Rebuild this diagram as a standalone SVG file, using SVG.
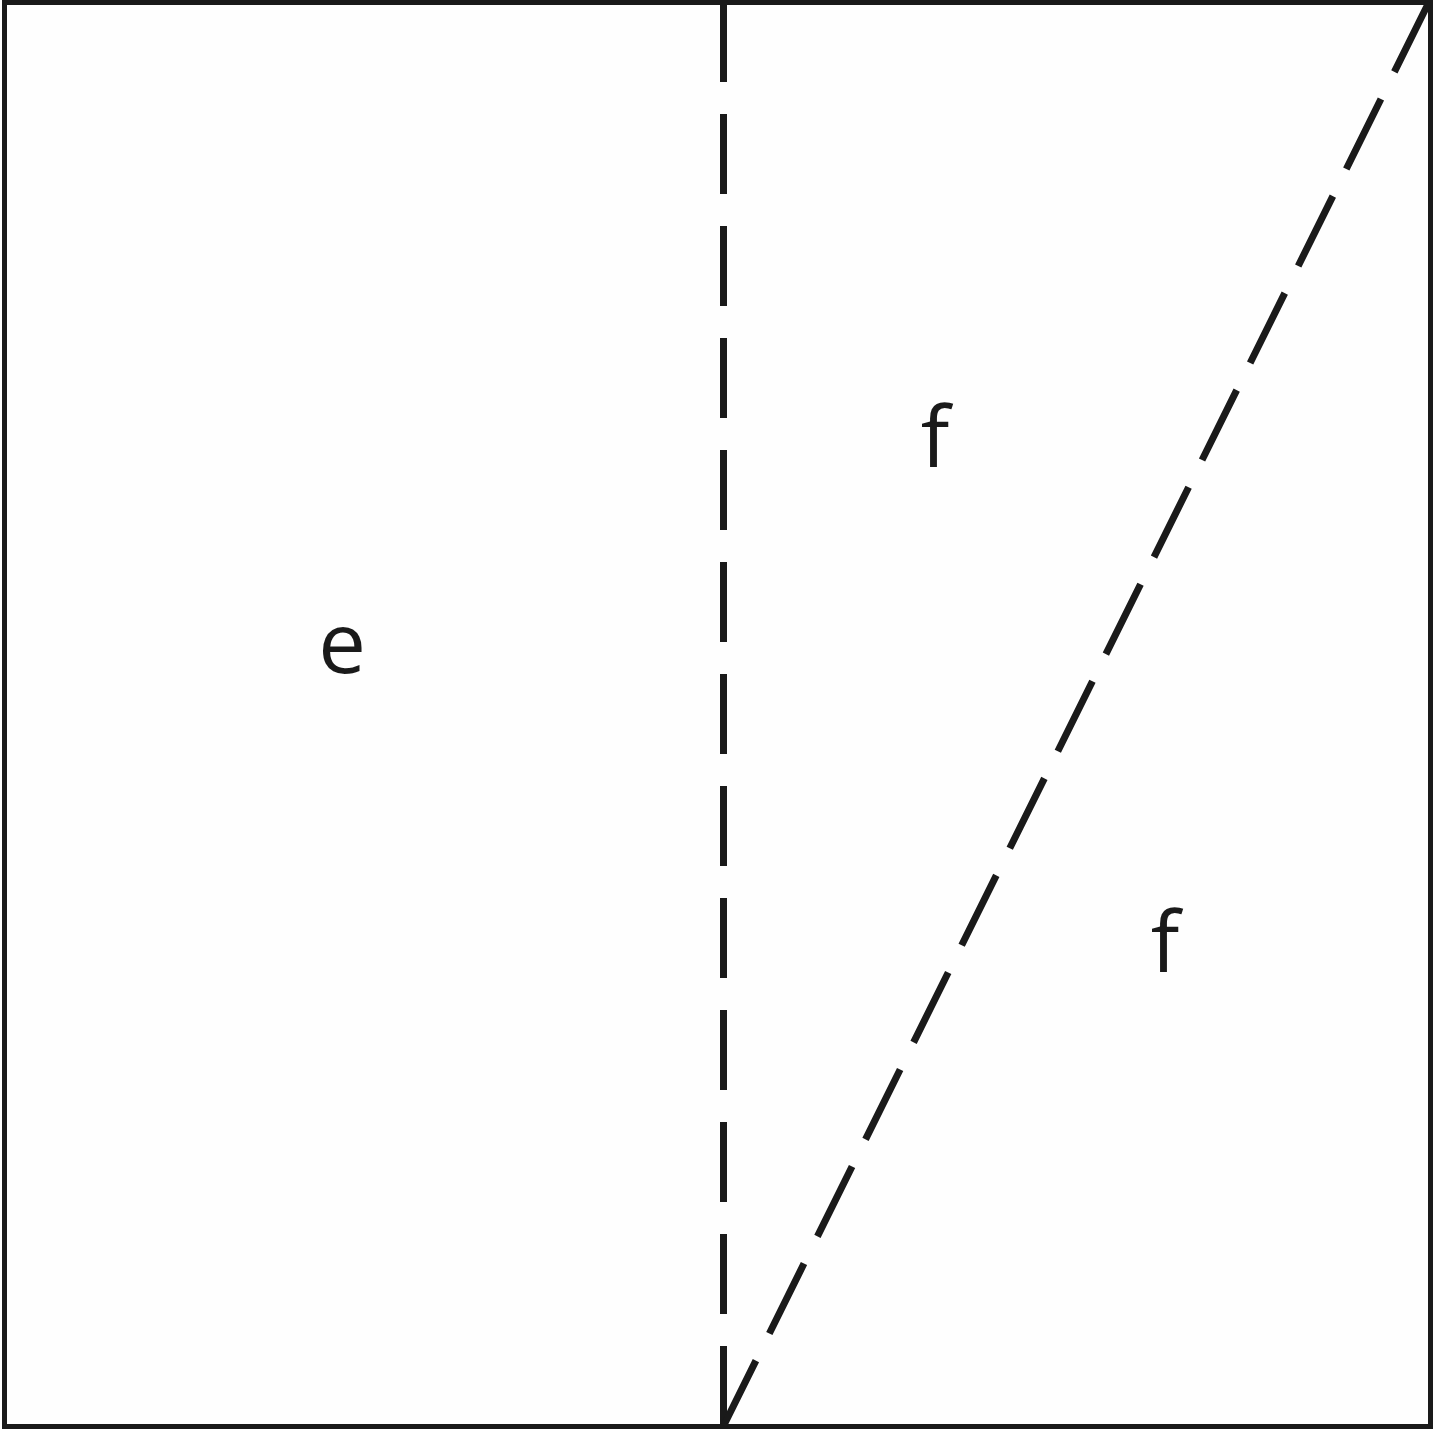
<svg xmlns="http://www.w3.org/2000/svg" width="1435" height="1429" viewBox="0 0 1435 1429">
<style>
.frame{fill:none;stroke:#1a1a1a;stroke-width:5}
.dash{fill:none;stroke:#1a1a1a;stroke-width:7}
.lbl{font-family:"Open Sans","Noto Sans",sans-serif;font-size:85px;fill:#1a1a1a;text-anchor:middle}
</style>
<rect width="1435" height="1429" fill="#fefefe"/>
<g id="frame"><rect class="frame" x="4.5" y="2.5" width="1426" height="1424"/></g>
<g id="connectors">
<line class="dash" x1="723.5" y1="2" x2="723.5" y2="1426" stroke-dasharray="80 32"/>
<line class="dash" x1="1429" y1="2" x2="723.5" y2="1426" stroke-dasharray="78 30.3"/>
</g>
<g id="label-e"><text class="lbl" x="342" y="673">e</text></g>
<g id="label-f1"><text class="lbl" x="935" y="467">f</text></g>
<g id="label-f2"><text class="lbl" x="1165" y="972">f</text></g>
</svg>
